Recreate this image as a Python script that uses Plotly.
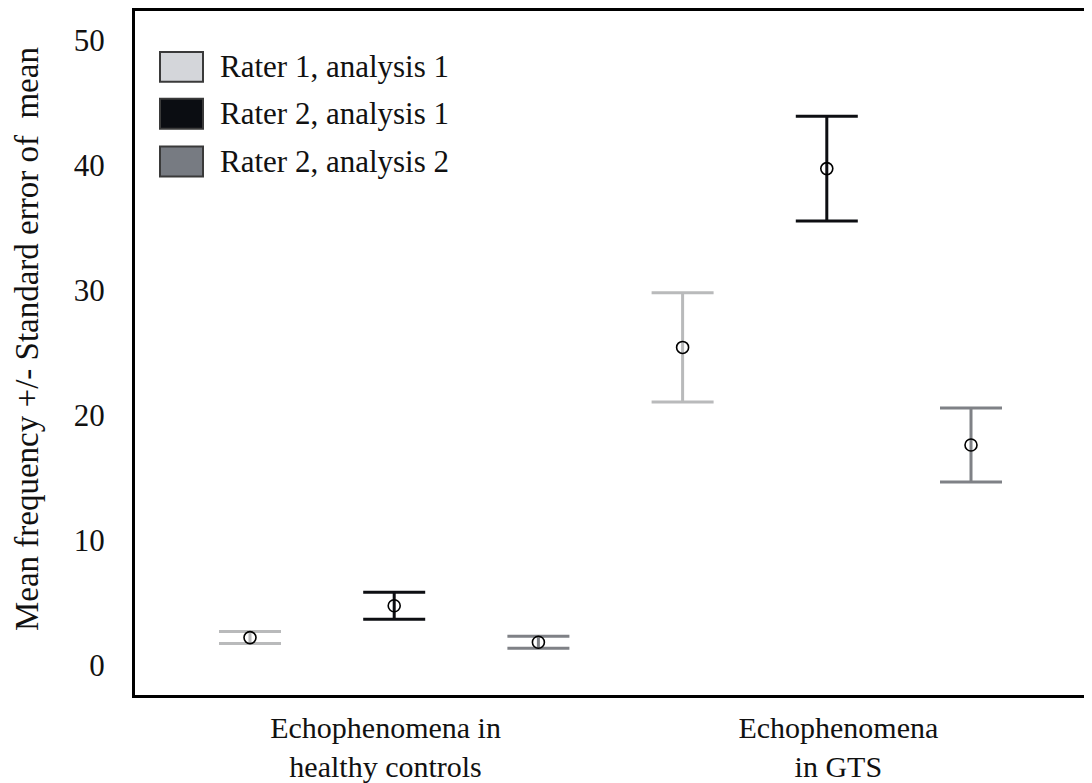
import plotly.graph_objects as go

# ---- data ----
categories = ["Echophenomena in<br>healthy controls", "Echophenomena<br>in GTS"]
category_pos = [0.94, 4.08]
series_names = ["Rater 1, analysis 1", "Rater 2, analysis 1", "Rater 2, analysis 2"]
rater1_an1_mean = [2.2, 25.4]
rater1_an1_se = [0.48, 4.37]
rater2_an1_mean = [4.75, 39.7]
rater2_an1_se = [1.08, 4.19]
rater2_an2_mean = [1.83, 17.6]
rater2_an2_se = [0.48, 2.95]
y_ticks = [0, 10, 20, 30, 40, 50]
y_title = "Mean frequency +/- Standard error of  mean"

means = [rater1_an1_mean, rater2_an1_mean, rater2_an2_mean]
ses = [rater1_an1_se, rater2_an1_se, rater2_an2_se]

# ---- styles ----
bar_colors = ["#b9babb", "#0d0e12", "#7f8186"]
legend_fills = ["#d4d6da", "#0b0d12", "#777b82"]
FONT = "Liberation Serif, Times New Roman, serif"

# page body has an 8px margin: figure occupies page pixels 8..1092 / 8..783
OFF = 8
W, H = 1092 - OFF, 783 - OFF
ML, MR, MT, MB = 135 - OFF, 0, 11 - OFF, 86
PW, PH = W - ML - MR, H - MT - MB


def px_x(p):  # page pixel -> paper
    return (p - OFF - ML) / PW


def px_y(p):
    return (H - MB - (p - OFF)) / PH


fig = go.Figure()
for s, name in enumerate(series_names):
    xs = [g * 3 + s for g in range(len(categories))]
    fig.add_trace(go.Scatter(
        x=xs, y=means[s], mode="markers", name=name, showlegend=False,
        marker=dict(symbol="circle-open", size=12, color="black",
                    line=dict(width=1.6, color="black")),
        error_y=dict(type="data", array=ses[s], visible=True,
                     color=bar_colors[s], thickness=3, width=31),
    ))

# custom legend (large swatches as in the reference)
box_tops = [52, 99, 147]
for s, name in enumerate(series_names):
    top = box_tops[s]
    fig.add_shape(type="rect", xref="paper", yref="paper",
                  x0=px_x(160), x1=px_x(203), y0=px_y(top + 30), y1=px_y(top),
                  fillcolor=legend_fills[s], line=dict(color="#3a3a3a", width=2))
    fig.add_annotation(xref="paper", yref="paper", x=px_x(218), y=px_y(top + 15),
                       text=name, showarrow=False, xanchor="left", yanchor="middle",
                       font=dict(family=FONT, size=31, color="#111"))

# y-axis title
fig.add_annotation(xref="paper", yref="paper", x=px_x(27), y=px_y(340),
                   text=y_title, textangle=-90, showarrow=False,
                   xanchor="center", yanchor="middle",
                   font=dict(family=FONT, size=33, color="#111"))

fig.update_layout(
    width=W, height=H,
    margin=dict(l=ML, r=MR, t=MT, b=MB),
    paper_bgcolor="white", plot_bgcolor="white",
    font=dict(family=FONT, color="#111"),
    showlegend=False,
)
x_unit = 144.2
fig.update_xaxes(
    range=[(135 - 250) / x_unit, (1092 - 250) / x_unit],
    tickvals=category_pos, ticktext=categories,
    tickfont=dict(family=FONT, size=30, color="#111"),
    showgrid=False, zeroline=False, ticks="",
    showline=True, linecolor="black", linewidth=3, mirror=True,
    ticklabelstandoff=4,
)
fig.update_yaxes(
    range=[-2.39, 52.3],
    tickvals=y_ticks,
    tickfont=dict(family=FONT, size=31, color="#111"),
    showgrid=False, zeroline=False, ticks="",
    showline=True, linecolor="black", linewidth=3, mirror=False,
    ticklabelstandoff=21,
)

fig.write_html("out.html")
